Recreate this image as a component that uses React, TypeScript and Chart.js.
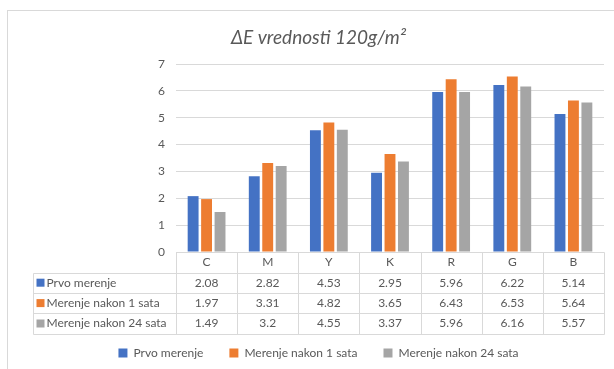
import React, { useEffect, useRef } from "react";
import { Chart, registerables } from "chart.js";

Chart.register(...registerables);

const categories = ["C", "M", "Y", "K", "R", "G", "B"];
const seriesNames = ["Prvo merenje", "Merenje nakon 1 sata", "Merenje nakon 24 sata"];
const prvoMerenje = [2.08, 2.82, 4.53, 2.95, 5.96, 6.22, 5.14];
const nakon1Sata = [1.97, 3.31, 4.82, 3.65, 6.43, 6.53, 5.64];
const nakon24Sata = [1.49, 3.2, 4.55, 3.37, 5.96, 6.16, 5.57];
const yTicks = [0, 1, 2, 3, 4, 5, 6, 7];
const seriesColors = ["#4472C4", "#ED7D31", "#A5A5A5"];
const chartTitle = "ΔE vrednosti 120g/m²";

const FONT = "Lato";
const TEXT = "#595959";
const LINE = "#d9d9d9";

const tablePlugin = {
  id: "dataTable",
  beforeDraw(chart: any) {
    const ctx = chart.ctx;
    ctx.save();
    ctx.fillStyle = "#ffffff";
    ctx.fillRect(0, 0, chart.width, chart.height);
    ctx.strokeStyle = LINE;
    ctx.lineWidth = 1;
    ctx.strokeRect(7.5, 10.5, chart.width + 50, chart.height + 50);
    ctx.restore();
  },
  afterDraw(chart: any) {
    const { ctx, chartArea, scales } = chart;
    const xs = scales.x;
    const ys = scales.y;
    const n = categories.length;
    const w = (xs.right - xs.left) / n;
    const top = Math.round(chartArea.bottom) + 0.5;
    const headerH = 20;
    const rowH = 20.4;
    const tableLeft = Math.round(ys.left) + 0.5;
    const right = Math.round(xs.right) + 0.5;
    const bottom = top + headerH + rowH * seriesNames.length;

    ctx.save();
    ctx.strokeStyle = LINE;
    ctx.lineWidth = 1;
    ctx.beginPath();
    ctx.moveTo(Math.round(xs.left) + 0.5, top);
    ctx.lineTo(right, top);
    for (let i = 0; i <= n; i++) {
      const x = Math.round(xs.left + i * w) + 0.5;
      ctx.moveTo(x, top);
      ctx.lineTo(x, Math.round(bottom) + 0.5);
    }
    for (let r = 0; r <= seriesNames.length; r++) {
      const y = Math.round(top + headerH + r * rowH) + 0.5;
      ctx.moveTo(tableLeft, y);
      ctx.lineTo(right, y);
    }
    ctx.moveTo(tableLeft, Math.round(top + headerH) + 0.5);
    ctx.lineTo(tableLeft, Math.round(bottom) + 0.5);
    ctx.stroke();

    ctx.fillStyle = TEXT;
    ctx.font = `12px ${FONT}`;
    ctx.textBaseline = "middle";
    ctx.textAlign = "center";
    categories.forEach((c, i) => {
      ctx.fillText(c, xs.getPixelForValue(i), top + headerH / 2);
    });

    const data = chart.data.datasets.map((d: any) => d.data);
    seriesNames.forEach((name, r) => {
      const cy = top + headerH + r * rowH + rowH / 2;
      ctx.fillStyle = seriesColors[r];
      ctx.fillRect(tableLeft + 3, cy - 4, 8, 8);
      ctx.fillStyle = TEXT;
      ctx.textAlign = "left";
      ctx.fillText(name, tableLeft + 13, cy);
      ctx.textAlign = "center";
      data[r].forEach((v: number, i: number) => {
        ctx.fillText(String(v), xs.getPixelForValue(i), cy);
      });
    });
    ctx.restore();
  },
};

export default function App() {
  const ref = useRef<HTMLCanvasElement | null>(null);

  useEffect(() => {
    if (!ref.current) return;
    const chart = new Chart(ref.current, {
      type: "bar",
      data: {
        labels: categories,
        datasets: [
          { label: seriesNames[0], data: prvoMerenje, backgroundColor: seriesColors[0] },
          { label: seriesNames[1], data: nakon1Sata, backgroundColor: seriesColors[1] },
          { label: seriesNames[2], data: nakon24Sata, backgroundColor: seriesColors[2] },
        ],
      },
      options: {
        responsive: false,
        animation: false,
        datasets: {
          bar: { categoryPercentage: 0.66, barPercentage: 0.81 },
        },
        layout: { padding: { left: 33, right: 10, top: 0, bottom: 0 } },
        scales: {
          x: {
            grid: { display: false },
            border: { display: false },
            ticks: { display: false },
            afterFit: (s: any) => {
              s.height = 69;
            },
          },
          y: {
            min: 0,
            max: 7,
            afterBuildTicks: (s: any) => {
              s.ticks = yTicks.map((v) => ({ value: v }));
            },
            grid: { color: LINE, drawTicks: false },
            border: { display: false },
            ticks: {
              padding: 11,
              color: TEXT,
              font: { family: FONT, size: 12 },
            },
            afterFit: (s: any) => {
              s.width = 143;
            },
          },
        },
        plugins: {
          title: {
            display: true,
            text: chartTitle,
            color: TEXT,
            font: { family: FONT, size: 19, style: "italic", weight: "normal" },
            padding: { top: 26.6, bottom: 14.6 },
          },
          legend: {
            position: "bottom",
            labels: {
              boxWidth: 9,
              boxHeight: 9,
              padding: 26,
              color: TEXT,
              font: { family: FONT, size: 12 },
            },
          },
          tooltip: { enabled: false },
        },
      },
      plugins: [tablePlugin],
    });
    return () => chart.destroy();
  }, []);

  return (
    <div style={{ position: "absolute", left: 0, top: 0, width: 614, height: 369 }}>
      <canvas ref={ref} width={614} height={369} style={{ display: "block" }} />
    </div>
  );
}
